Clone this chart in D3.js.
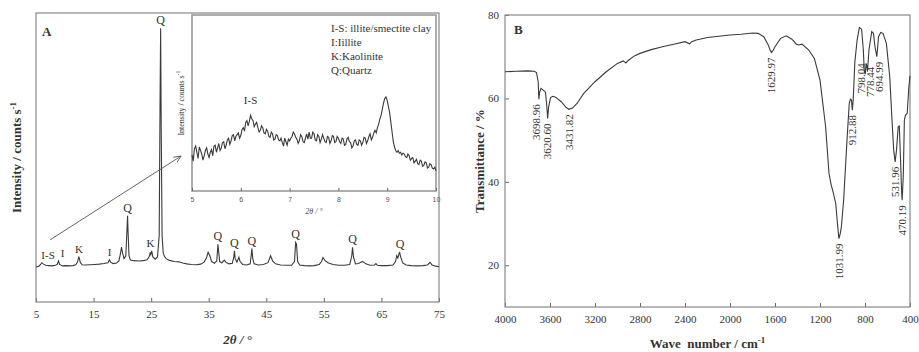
<!DOCTYPE html>
<html>
<head>
<meta charset="utf-8">
<script src="https://cdn.jsdelivr.net/npm/d3@7"></script>
<style>
    body { margin: 0; background: #fff; }
    svg text { font-family: 'Liberation Serif', 'Times New Roman', serif; fill: #333; }
    .frame { fill: none; stroke: #888; stroke-width: 1.2; }
    .trace { fill: none; stroke: #3a3a3a; stroke-width: 1.1; }
    .tick line { stroke: #666; }
    .tick text { font-size: 11px; }
    .title { font-size: 13px; font-weight: bold; }
</style>
</head>
<body>
<div id="chart"></div>
<script>
// ---- panel A : XRD pattern ----
var xrdTheta = [5.0,5.5,5.8,6.0,6.3,6.7,7.2,7.8,8.4,8.7,8.9,9.1,9.6,10.2,10.8,11.4,11.9,12.2,12.45,12.7,
    13.0,13.6,14.4,15.2,16.0,16.8,17.5,17.75,17.95,18.4,19.0,19.4,19.7,19.85,20.05,20.3,20.6,20.8,20.9,21.0,
    21.15,21.4,22.0,22.8,23.6,24.3,24.7,24.85,24.95,25.1,25.3,25.7,26.1,26.4,26.55,26.65,26.75,26.9,27.1,27.3,
    27.6,28.2,29.0,29.8,30.5,31.2,32.0,32.8,33.6,34.2,34.6,34.9,35.2,35.5,36.0,36.4,36.6,36.75,36.9,37.3,
    37.7,38.0,38.5,39.1,39.35,39.47,39.6,39.9,40.25,40.45,40.9,41.6,42.2,42.4,42.5,42.65,42.9,43.6,44.5,45.3,
    45.75,46.1,46.6,47.5,48.5,49.4,49.9,50.1,50.25,50.45,50.8,51.6,52.5,53.3,54.2,54.6,54.85,55.2,55.8,56.6,
    57.6,58.6,59.5,59.85,59.98,60.15,60.5,61.0,61.5,61.8,62.3,63.0,63.8,64.05,64.3,65.0,66.0,67.0,67.45,67.65,
    67.85,68.15,68.35,68.7,69.3,70.2,71.2,72.2,73.0,73.45,73.8,74.4,75.0];
var xrdCounts = [121,124,130,136,131,127,126,125,127,131,142,130,125,126,125,126,129,138,157,137,
    129,128,129,130,131,133,136,146,138,133,135,142,170,190,168,150,160,250,298,240,
    160,145,143,142,143,146,158,172,165,177,156,148,156,230,700,947,600,230,170,158,
    150,144,140,139,135,132,130,129,131,138,152,172,160,140,134,142,200,170,140,136,
    145,137,132,134,155,177,150,138,155,140,130,128,132,165,185,150,132,128,130,136,
    160,142,132,128,127,127,140,206,200,140,128,126,125,126,130,140,154,143,135,130,
    127,127,130,160,189,155,132,133,138,140,132,127,128,133,127,126,126,128,140,160,
    152,173,155,135,128,126,125,126,128,137,128,124,122];
var xrdTicks = [5, 15, 25, 35, 45, 55, 65, 75];
var xrdPeaks = [
    {at: 6.0, x: 7.1, text: 'I-S'}, {at: 8.9, x: 9.6, text: 'I'}, {at: 12.45, x: 12.45, text: 'K'},
    {at: 17.8, x: 17.8, text: 'I'}, {at: 25.1, x: 24.9, text: 'K'}, {at: 20.9, x: 20.9, text: 'Q'},
    {at: 26.65, x: 26.65, text: 'Q'}, {at: 36.6, x: 36.6, text: 'Q'}, {at: 39.47, x: 39.47, text: 'Q'},
    {at: 42.5, x: 42.5, text: 'Q'}, {at: 50.1, x: 50.1, text: 'Q'}, {at: 59.98, x: 59.98, text: 'Q'},
    {at: 68.15, x: 68.25, text: 'Q'}
];
var legendLines = ['I-S: illite/smectite clay', 'I:Iillite', 'K:Kaolinite', 'Q:Quartz'];

// inset, 2θ = 5 .. 10 in steps of 0.025
var insetStart = 5, insetStep = 0.025;
var insetCounts = [20.5,17,24,25.5,22,18.5,25,23,21,17.5,20,23,24.5,21,19,22,23.5,20,25.5,26,
    22,24.5,27,23,24.5,27.5,28,24,26,29,30,26.5,28.5,31.5,32,28.5,31,32,33,30,
    31.5,35,36,34,39,40,37,39.5,43,41,40,36.5,38,39,36,33.5,34.5,37,36,33,
    32.5,35,34,31,30.5,33.5,32.5,29,29.5,32,31.5,29,28.5,30,27.5,25.5,30,28,26,29.5,
    28.5,30,31,33.5,32.5,30.5,29.5,27,28.5,32,31,28,27.5,30,32.5,29.5,33.5,30,30,33.5,
    32.5,29,28.5,32,31,27.5,29.5,32,30,28,27.5,31,30.5,27,28.5,31.5,31,27.5,28,31,
    30,28,27,30,29.5,26,26.5,29.5,30.5,28,27.5,24.5,25.5,28.5,29,26.5,26,29,28.5,26,
    27.5,30.5,30,27,28.5,31,32.5,29,30.5,33,34.5,33,36,38,41,43,46.5,50,52.5,53.5,
    51.5,48,44.5,39,33.5,28,25,23,22,23,21.5,22,20.5,21.5,21,19.5,19,21,20,17.5,
    18.5,19,16,17,18,15.5,15,17.5,17,14,14.5,16.5,16,13,13.5,15.5,15,13,12.5,13.5,
    11.5];
var insetTicks = [5, 6, 7, 8, 9, 10];

// ---- panel B : FTIR spectrum ----
var irWave = [4000,3900,3800,3740,3720,3705,3699,3692,3680,3660,3640,3628,3621,3612,3595,3575,3550,3500,3460,3432,
    3400,3360,3300,3200,3100,3000,2950,2925,2905,2850,2800,2700,2600,2500,2400,2360,2340,2300,2200,2100,
    2000,1900,1800,1750,1700,1660,1640,1630,1615,1600,1550,1500,1450,1410,1390,1360,1300,1250,1200,1150,
    1120,1100,1080,1060,1045,1032,1020,1010,990,960,940,930,920,913,905,890,870,850,830,815,
    806,798,790,784,778,765,740,725,712,700,695,688,680,660,640,610,580,560,545,532,
    520,505,495,485,475,470,460,450,440,425,410,400];
var irTrans = [66.4,66.5,66.6,66.5,66.2,64,59.8,61.5,62.4,62,61.5,58,55.2,58,60.2,60.5,60.3,59.2,57.9,57.4,
    57.7,58.8,61.2,64,66.4,68.4,69,68.5,69.1,70.2,70.8,71.7,72.4,73,73.6,73.1,73.6,74,74.6,74.9,
    75.2,75.4,75.7,75.6,74.8,72.8,71.4,71,71.6,72.4,74.4,75,74.2,73,72.8,73,71.6,69.6,64.4,53.2,
    42,39.2,37.2,34.8,30,26.4,27.6,29.2,35.6,50,58.8,59.8,59.6,57.2,59.6,68.8,74,77,76.6,71.6,
    66.5,65.8,68.4,67.8,66.4,71.6,76,75.6,72.5,70.8,70,72,74.8,75.8,75.6,73.2,65.2,54.8,47.6,44.8,
    47.6,53.2,53.4,46,38,35.6,41.2,54.8,56,56.4,62.8,65.4];
var irTicksX = [4000, 3600, 3200, 2800, 2400, 2000, 1600, 1200, 800, 400];
var irTicksY = [20, 40, 60, 80];
var irPeaks = [
    {at: 3699, text: '3698.96'}, {at: 3621, text: '3620.60'}, {at: 3432, text: '3431.82'},
    {at: 1630, text: '1629.97'}, {at: 1032, text: '1031.99'}, {at: 913, text: '912.88'},
    {at: 798, text: '798.04'}, {at: 778, text: '778.44'}, {at: 695, text: '694.99'},
    {at: 532, text: '531.96'}, {at: 470, text: '470.19'}
];

var W = 919, H = 352;
var svg = d3.select('#chart').append('svg').attr('width', W).attr('height', H);

var xA = d3.scaleLinear().domain([5, 75]).range([36, 439]);
var yA = d3.scaleLinear().domain([0, 1000]).range([302, 13]);
var xI = d3.scaleLinear().domain([5, 10]).range([192, 436]);
var yI = d3.scaleLinear().domain([0, 100]).range([191, 15]);
var xB = d3.scaleLinear().domain([4000, 400]).range([505, 910]);
var yB = d3.scaleLinear().domain([10, 80]).range([307, 15]);
var fmt = d3.format('d');

// ---------- panel A ----------
var gA = svg.append('g');
gA.append('g')
    .attr('transform', 'translate(0,' + yA(0) + ')')
    .call(d3.axisBottom(xA).tickValues(xrdTicks).tickFormat(fmt).tickSizeInner(-4).tickSizeOuter(0).tickPadding(8))
    .call(function(g){ g.select('.domain').remove(); });
gA.append('rect').attr('class', 'frame')
    .attr('x', xA(5)).attr('y', yA(1000))
    .attr('width', xA(75) - xA(5)).attr('height', yA(0) - yA(1000));

var xrd = xrdTheta.map(function(t, i){ return [t, xrdCounts[i]]; });
gA.append('path').attr('class', 'trace')
    .attr('d', d3.line().x(function(d){ return xA(d[0]); }).y(function(d){ return yA(d[1]); })(xrd));

function localMax(t) {
    return d3.max(xrd.filter(function(d){ return Math.abs(d[0] - t) < 0.3; }), function(d){ return d[1]; });
}
gA.selectAll('text.peak').data(xrdPeaks).enter().append('text')
    .attr('class', 'peak')
    .attr('x', function(d){ return xA(d.x); })
    .attr('y', function(d){ return yA(localMax(d.at)) - 4; })
    .attr('text-anchor', 'middle')
    .style('font-size', function(d){ return d.text === 'Q' ? '12px' : '11px'; })
    .text(function(d){ return d.text; });

gA.append('text').attr('class', 'title').attr('x', 42).attr('y', 36).text('A');

var tA = gA.append('text').attr('class', 'title')
    .attr('transform', 'translate(21,' + (yA(500)) + ') rotate(-90)')
    .attr('text-anchor', 'middle');
tA.append('tspan').text('Intensity / counts s');
tA.append('tspan').attr('dy', -5).style('font-size', '9px').text('-1');

gA.append('text').attr('class', 'title')
    .attr('x', xA(40)).attr('y', 344).attr('text-anchor', 'middle')
    .style('font-style', 'italic')
    .text('2θ / °');

// arrow to the inset
svg.append('defs').append('marker')
    .attr('id', 'head').attr('viewBox', '0 0 10 10').attr('refX', 9).attr('refY', 5)
    .attr('markerWidth', 9).attr('markerHeight', 9).attr('orient', 'auto')
    .append('path').attr('d', 'M0,1 L9,5 L0,9').attr('fill', 'none').attr('stroke', '#555').attr('stroke-width', 1);
gA.append('line')
    .attr('x1', xA(7.45)).attr('y1', yA(215))
    .attr('x2', xA(30.2)).attr('y2', yA(505))
    .attr('stroke', '#555').attr('stroke-width', 0.9)
    .attr('marker-end', 'url(#head)');

// ---------- inset ----------
var gI = svg.append('g');
gI.append('rect').attr('x', xI(5)).attr('y', yI(100))
    .attr('width', xI(10) - xI(5)).attr('height', yI(0) - yI(100))
    .attr('fill', '#fff').attr('stroke', '#999').attr('stroke-width', 1.6);
var gIx = gI.append('g')
    .attr('transform', 'translate(0,' + yI(0) + ')')
    .call(d3.axisBottom(xI).tickValues(insetTicks).tickFormat(fmt).tickSizeInner(-3).tickSizeOuter(0).tickPadding(6));
gIx.select('.domain').remove();
gIx.selectAll('.tick text')
    .style('font-family', 'Arial, "Liberation Sans", sans-serif')
    .style('font-size', '7px').style('fill', '#555');

var inset = insetCounts.map(function(v, i){ return [insetStart + i * insetStep, v]; });
gI.append('path').attr('class', 'trace').attr('stroke-width', 0.9)
    .attr('d', d3.line().x(function(d){ return xI(d[0]); }).y(function(d){ return yI(d[1]); })(inset));

gI.append('text').attr('x', xI(6.2)).attr('y', yI(43) - 11)
    .attr('text-anchor', 'middle').style('font-size', '11px').text('I-S');

gI.selectAll('text.legend').data(legendLines).enter().append('text')
    .attr('class', 'legend')
    .attr('x', 331)
    .attr('y', function(d, i){ return 32 + i * 13.9; })
    .style('font-size', '11px')
    .text(function(d){ return d; });

var tIy = gI.append('text')
    .attr('transform', 'translate(184,' + yI(50) + ') rotate(-90)')
    .attr('text-anchor', 'middle').style('font-size', '8px');
tIy.append('tspan').text('Intensity / counts s');
tIy.append('tspan').attr('dy', -4).style('font-size', '6px').text('-1');

gI.append('text').attr('x', xI(7.5)).attr('y', 214)
    .attr('text-anchor', 'middle').style('font-size', '8px').style('font-style', 'italic').style('fill', '#555')
    .text('2θ / °');

// ---------- panel B ----------
var gB = svg.append('g');
gB.append('g')
    .attr('transform', 'translate(0,' + yB(10) + ')')
    .call(d3.axisBottom(xB).tickValues(irTicksX).tickFormat(fmt).tickSizeInner(-4).tickSizeOuter(0).tickPadding(8))
    .call(function(g){ g.select('.domain').remove(); });
gB.append('g')
    .attr('transform', 'translate(' + xB(4000) + ',0)')
    .call(d3.axisLeft(yB).tickValues(irTicksY).tickFormat(fmt).tickSizeInner(-4).tickSizeOuter(0).tickPadding(6))
    .call(function(g){ g.select('.domain').remove(); });
gB.append('rect').attr('class', 'frame')
    .attr('x', xB(4000)).attr('y', yB(80))
    .attr('width', xB(400) - xB(4000)).attr('height', yB(10) - yB(80));

var ir = irWave.map(function(w, i){ return [w, irTrans[i]]; });
gB.append('path').attr('class', 'trace')
    .attr('d', d3.line().x(function(d){ return xB(d[0]); }).y(function(d){ return yB(d[1]); })(ir));

// labels in crowded spots are spread sideways and lifted: [dx, dy] in pixels
var labelNudge = {'3698.96': [-3, 0], '798.04': [-4, -16], '778.44': [3, -10], '694.99': [2, 0]};
function transAt(w) {
    var best = ir[0];
    ir.forEach(function(d){ if (Math.abs(d[0] - w) < Math.abs(best[0] - w)) best = d; });
    return best[1];
}
gB.selectAll('text.band').data(irPeaks).enter().append('text')
    .attr('class', 'band')
    .attr('transform', function(d){
        var n = labelNudge[d.text] || [0, 0];
        var top = yB(transAt(d.at)) + 5 + n[1];
        return 'translate(' + (xB(d.at) + n[0]) + ',' + top + ') rotate(-90)';
    })
    .attr('text-anchor', 'end')
    .attr('dy', '0.35em')
    .style('font-size', '11px')
    .text(function(d){ return d.text; });

gB.append('text').attr('class', 'title').attr('x', 514).attr('y', 34).text('B');

gB.append('text').attr('class', 'title')
    .attr('transform', 'translate(484,' + yB(45) + ') rotate(-90)')
    .attr('text-anchor', 'middle')
    .text('Transmittance / %');

var tB = gB.append('text').attr('class', 'title')
    .attr('x', xB(2200)).attr('y', 348).attr('text-anchor', 'middle')
    .attr('xml:space', 'preserve');
tB.append('tspan').text('Wave  number / cm');
tB.append('tspan').attr('dy', -5).style('font-size', '9px').text('-1');
</script>
</body>
</html>
